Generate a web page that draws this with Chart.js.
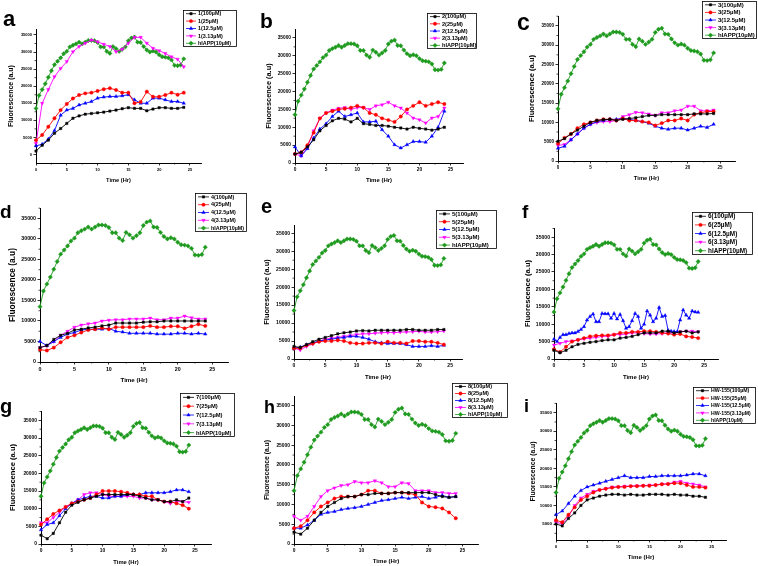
<!DOCTYPE html>
<html><head><meta charset="utf-8">
<script src="https://cdn.jsdelivr.net/npm/chart.js@4.4.0/dist/chart.umd.min.js"></script>
<style>
html,body{margin:0;padding:0;background:#fff;}
#wrap{position:relative;width:758px;height:566px;overflow:hidden;background:#fff;}
#wrap canvas{position:absolute;left:0;top:0;}
.lt{position:absolute;font-family:"Liberation Sans",Arial,sans-serif;font-weight:bold;color:#000;white-space:nowrap;}
</style></head><body><div id="wrap"></div>
<script>
// ---------- data ----------
const hoursHalf = [0,0.5,1,1.5,2,2.5,3,3.5,4,4.5,5,5.5,6,6.5,7,7.5,8,8.5,9,9.5,10,10.5,11,11.5,12,12.5,13,13.5,14,14.5,15,15.5,16,16.5,17,17.5,18,18.5,19,19.5,20,20.5,21,21.5,22,22.5,23,23.5,24];
const hoursFull = [0,1,2,3,4,5,6,7,8,9,10,11,12,13,14,15,16,17,18,19,20,21,22,23,24];
const yTickValues = [0,5000,10000,15000,20000,25000,30000,35000];
const xTickValues = [0,5,10,15,20,25];
const yMinorValues = [2500,7500,12500,17500,22500,27500,32500,37500];
const xMinorValues = [2.5,7.5,12.5,17.5,22.5];
const concLabels = ['100µM','25µM','12.5µM','3.13µM'];
const controlLabel = 'hIAPP(10µM)';
const compoundNames = ['1','2','3','4','5','6','7','8','HW-155'];
const panelLetters = ['a','b','c','d','e','f','g','h','i'];

const hIAPP = [13500,17300,19000,20700,22600,24500,26300,27300,28300,29500,30200,31500,32000,32400,32900,32400,32900,33400,33400,33300,32800,31500,31500,30200,29600,31600,31000,30200,30800,31500,33300,34100,34400,32900,32800,31600,30600,30000,30300,30000,29200,28600,28500,28300,27700,26100,26000,26200,28000];

const c1_100  = [1000,2700,4200,6200,7600,9100,10600,11300,11800,12000,12200,12400,12700,13000,13400,13700,13500,13500,12800,13300,13700,13700,13500,13500,13800];
const c1_25   = [4200,5700,8100,10600,13000,14800,16400,17400,17900,18100,18600,19100,19400,18900,18100,18100,15000,15400,18400,16900,16900,17400,18100,17500,18100];
const c1_12_5 = [2500,3000,4500,7000,11500,13000,13500,14500,15000,15500,16500,16800,17000,17000,17200,17500,16000,15000,15000,16500,16500,16000,15500,15500,15000];
const c1_3_13 = [3200,15000,19000,22800,25200,27200,30100,31600,32600,33500,33000,32300,31600,30100,30800,32600,34300,34300,32600,31100,30400,29600,28600,27900,25700];

const c2_100  = [2500,3000,4500,6500,9000,10500,11800,12500,12300,11500,12500,11000,10800,10500,10500,10300,10000,9800,9500,10000,9700,9500,9200,9500,10000];
const c2_25   = [2500,3000,5000,8500,12500,14000,14500,15000,15200,15500,16000,15500,14000,13500,12500,12000,11500,13000,15000,16000,17000,16000,16500,17000,16500];
const c2_12_5 = [4500,2000,4000,7000,9500,11000,13000,14500,13000,13500,14000,11500,11500,11700,9300,7500,5100,4200,5100,6000,6000,5800,7500,10000,14500];
const c2_3_13 = [2500,2000,4500,9000,12500,14000,14800,15300,15500,15000,15500,15500,15000,16000,16300,17000,16000,15400,14000,12600,12100,11200,12600,13000,15400];

const c3_100  = [5100,5800,7000,8000,9000,10000,10500,10700,10800,10500,10800,11000,11200,11500,11800,11800,12000,12000,12000,12000,12000,12200,12200,12200,12300];
const c3_25   = [4500,6000,7000,8500,9500,10000,10500,10800,10800,10500,11000,10500,10500,10200,10000,9200,9800,10500,10500,11000,10500,12000,12500,12800,12800];
const c3_12_5 = [3300,3800,5500,7000,8500,9500,10200,10500,10800,10800,11000,10800,10500,10200,9800,9000,8500,8200,8500,8500,8000,8500,9000,8700,9500];
const c3_3_13 = [4000,4300,5500,7000,8500,9500,10000,10200,10200,10500,11500,12000,12600,12500,12200,11800,12500,12500,13000,13200,14200,14200,13000,13000,13200];

const c4_100  = [3500,4000,5500,6500,7000,7800,8000,8300,8500,8800,9000,9500,9500,9500,9500,9700,9800,9800,10000,10000,10000,10000,10000,10000,10000];
const c4_25   = [3000,2800,3500,4800,6000,6500,7200,7800,8000,8300,8000,8500,8500,8500,8500,8500,8800,8500,8500,8700,8700,8200,8700,9200,8800];
const c4_12_5 = [5000,4000,5000,6000,6800,7200,7800,8000,8000,8000,8200,7500,7300,7000,7000,7000,7000,6800,6800,6800,7000,7000,6800,7000,6800];
const c4_3_13 = [3500,4000,5000,6500,7500,8500,9000,9300,9500,10000,10200,10300,10300,10500,10500,10500,10700,10300,10300,10700,10700,11200,10800,10500,10500];

const c5_100  = [3500,3200,4000,4800,5500,6000,6500,7000,7300,7500,7800,7900,7800,8000,8000,8000,8000,8000,8200,8200,8000,8000,8000,8200,8200];
const c5_25   = [3000,3000,3800,4300,4800,5000,5000,5200,5000,4500,4300,4300,4500,4500,4300,4800,4500,4500,4300,5000,5000,4800,4800,4500,4000];
const c5_12_5 = [3000,3300,4000,4500,5000,5300,5500,5800,6000,6300,6300,6000,5500,4800,4500,4300,4300,4300,4000,3500,3500,3500,3700,3500,3800];
const c5_3_13 = [3000,2500,3500,4200,5000,5500,5800,6000,6300,6500,6800,7000,7000,7200,7300,7400,7300,7500,7500,7600,7700,7500,7500,7600,7800];

const c6_100  = [2500,1800,2500,3500,4200,4500,4800,5000,5300,5500,5500,6000,6200,6500,7000,7500,7500,7500,8000,8000,7500,7800,8000,7500,7800];
const c6_25   = [2800,2000,3500,5000,5500,6000,6500,6700,6800,6800,7000,7500,7500,7800,7800,8000,8000,7800,7500,7300,7000,7200,6500,6300,6000];
const c6_12_5 = [5700,5000,6200,7000,7000,7300,7500,7500,7900,8500,9300,11200,12200,12900,10700,10700,13100,13000,13000,11700,13100,11500,12800,11000,8800,9300,11000,13100,12200,8800,10000,13800,12600,10700,11700,14800,12200,12500,8200,8000,7900,7800,11200,14100,12600,11700,13800,13500,13400];
const c6_3_13 = [4000,4500,5000,5200,5500,5800,6000,6200,6500,6500,7000,7000,7200,7500,7500,7300,7200,7200,7300,7500,7500,7800,8000,8000,7800];

const c7_100  = [2500,1500,3000,6000,9000,11000,11800,12500,13000,13500,14000,14000,14000,14000,14000,14000,13500,13000,12500,12500,12000,12000,12500,12000,13000];
const c7_25   = [5500,7000,8500,9500,10500,11500,12000,12500,13000,14000,15000,15000,15000,14800,14500,14000,14000,13500,13500,12500,12000,12000,11500,11000,10000];
const c7_12_5 = [4000,5500,6000,8000,10000,11500,12500,13000,13500,13500,13000,13000,13500,13500,14000,14000,14000,14500,14500,14500,14500,14800,15300,15300,14800];
const c7_3_13 = [6000,6000,7500,9000,10500,11500,12500,14000,14500,14500,14000,13500,13500,13500,13500,13500,13000,13000,12500,12500,12000,11500,12000,12000,11800];

const c8_100  = [3000,2500,4000,6000,8000,9500,10500,11500,12000,12000,12500,12500,12800,12800,12800,13000,13000,13000,13000,13000,13000,12500,12000,11800,12000];
const c8_25   = [4000,4500,6000,8000,9500,10500,11500,12000,12000,12000,12500,13500,13500,12800,12800,13000,13000,12800,12500,10500,9500,9300,9000,8000,6500];
const c8_12_5 = [4000,4000,4800,6000,7500,8000,8200,8700,9000,9200,9500,10000,10500,11000,11200,11500,11800,11500,11800,12000,11500,11800,12300,11800,12000];
const c8_3_13 = [7000,6000,7000,9500,12000,13500,14200,14800,15000,15800,15500,15500,16000,15500,14500,14500,15500,15300,13500,13500,13500,13000,13000,12800,12800];

const c9_100  = [5000,4500,6500,8000,10000,11500,12000,12500,12800,13000,13000,12800,13000,12800,12800,13000,13000,13000,12800,13000,12800,12800,12500,12500,12200];
const c9_25   = [6000,5500,7500,9500,11500,12500,13500,14200,14500,14800,15000,15000,15200,15200,15300,15300,15500,15700,15800,16000,16000,15500,15000,15000,14800];
const c9_12_5 = [7500,8500,10500,12500,14000,15000,15500,16000,16500,17000,17500,18000,17500,17500,17500,17800,17800,18000,18000,18000,18000,18200,18500,18500,18000];
const c9_3_13 = [5500,5000,7000,10000,12000,13000,13800,14200,14500,15000,15000,15200,15200,15300,15300,15500,15500,15800,15800,16300,16500,16000,15800,15500,15000];

const panelSeries = [
  [c1_100,c1_25,c1_12_5,c1_3_13],
  [c2_100,c2_25,c2_12_5,c2_3_13],
  [c3_100,c3_25,c3_12_5,c3_3_13],
  [c4_100,c4_25,c4_12_5,c4_3_13],
  [c5_100,c5_25,c5_12_5,c5_3_13],
  [c6_100,c6_25,c6_12_5,c6_3_13],
  [c7_100,c7_25,c7_12_5,c7_3_13],
  [c8_100,c8_25,c8_12_5,c8_3_13],
  [c9_100,c9_25,c9_12_5,c9_3_13]
];

// ---------- layout / style ----------
const FONT = '"Liberation Sans", Arial, sans-serif';
const seriesStyle = [
  {color:'#000000', pointStyle:'rect',     rot:0,   r:1.7},
  {color:'#ff0000', pointStyle:'circle',   rot:0,   r:1.7},
  {color:'#0000ff', pointStyle:'triangle', rot:0,   r:2.0},
  {color:'#ff00ff', pointStyle:'triangle', rot:180, r:2.0},
  {color:'#1e9a1e', pointStyle:'rectRot',  rot:0,   r:2.2}
];
const geom = [
  {L:36, T:29, R:201,B:163, ymin:-2500,ymax:36750, xmax:26.8, ytx:11, xty:180, tf:4.0, ytf:7.0, xtf:5.7, leg:[183,10,237,47], lf:5.4, sl:10, lx:3,   lb:27,  ls:22},
  {L:295,T:29, R:463,B:163, ymin:0,    ymax:37500, xmax:27.0, ytx:269,xty:180, tf:4.8, ytf:7.4, xtf:6.0, leg:[427,13,477,49], lf:5.6, sl:10, lx:260, lb:28,  ls:21},
  {L:558,T:16, R:735,B:161, ymin:0,    ymax:37550, xmax:27.3, ytx:532,xty:178, tf:4.5, ytf:7.6, xtf:5.8, leg:[702,1,757,39],  lf:6.0, sl:11, lx:517, lb:30,  ls:23},
  {L:40, T:208,R:228,B:362, ymin:0,    ymax:37550, xmax:27.3, ytx:13, xty:380, tf:5.3, ytf:8.4, xtf:6.2, leg:[195,193,247,232],lf:5.4, sl:11, lx:0,   lb:218, ls:19},
  {L:294,T:225,R:462,B:359, ymin:0,    ymax:37300, xmax:26.9, ytx:267,xty:377, tf:5.0, ytf:7.4, xtf:6.0, leg:[436,210,497,249],lf:6.0, sl:11, lx:261, lb:213, ls:20},
  {L:554,T:228,R:718,B:359, ymin:0,    ymax:37640, xmax:27.3, ytx:528,xty:377, tf:5.1, ytf:7.6, xtf:6.0, leg:[692,212,753,255],lf:6.4, sl:11, lx:522, lb:218, ls:19},
  {L:41, T:411,R:211,B:544, ymin:0,    ymax:37650, xmax:27.6, ytx:13, xty:562, tf:4.9, ytf:7.6, xtf:5.8, leg:[180,393,235,437],lf:5.8, sl:11, lx:0,   lb:413, ls:20},
  {L:294,T:396,R:478,B:544, ymin:0,    ymax:37450, xmax:27.3, ytx:267,xty:561, tf:4.9, ytf:6.8, xtf:6.1, leg:[452,383,508,418],lf:5.6, sl:11, lx:264, lb:413, ls:18},
  {L:556,T:403,R:726,B:540, ymin:700,  ymax:37600, xmax:27.3, ytx:533,xty:557, tf:4.4, ytf:6.8, xtf:6.1, leg:[693,387,756,424],lf:5.2, sl:13, lx:524, lb:412, ls:18}
];

const boxLegend = {
  id:'boxLegend',
  afterDraw(chart, args, o){
    const ctx = chart.ctx;
    const [x0,y0,x1,y1] = o.rect;
    ctx.save();
    ctx.fillStyle = '#fff';
    ctx.fillRect(x0, y0, x1-x0, y1-y0);
    ctx.strokeStyle = '#000'; ctx.lineWidth = 0.8;
    ctx.strokeRect(x0+0.5, y0+0.5, x1-x0-1, y1-y0-1);
    const dss = chart.data.datasets;
    const rowH = (y1-y0)/dss.length;
    const sx0 = x0+3, sx1 = x0+3+o.sample;
    ctx.font = 'bold ' + o.fs + 'px ' + FONT;
    ctx.textBaseline = 'middle'; ctx.textAlign = 'left';
    dss.forEach((ds,i)=>{
      const cy = y0 + rowH*(i+0.5);
      ctx.strokeStyle = ds.borderColor; ctx.lineWidth = 0.8;
      ctx.beginPath(); ctx.moveTo(sx0,cy); ctx.lineTo(sx1,cy); ctx.stroke();
      ctx.fillStyle = ds.backgroundColor; ctx.strokeStyle = ds.borderColor; ctx.lineWidth = 0.4;
      if (Chart.helpers && Chart.helpers.drawPoint) {
        Chart.helpers.drawPoint(ctx, {pointStyle: ds.pointStyle, rotation: ds.pointRotation||0, radius: ds.pointRadius, borderWidth: 0.4}, (sx0+sx1)/2, cy);
      } else {
        ctx.fillRect((sx0+sx1)/2-1.5, cy-1.5, 3, 3);
      }
      ctx.fillStyle = '#000';
      ctx.fillText(ds.label, sx1+2, cy+0.3);
    });
    ctx.restore();
  }
};

// minor axis ticks (Origin style), placed through the chart's own scales
const minorTicks = {
  id:'minorTicks',
  afterDraw(chart){
    const ctx = chart.ctx, xs = chart.scales.x, ys = chart.scales.y, a = chart.chartArea;
    ctx.save();
    ctx.strokeStyle = '#000'; ctx.lineWidth = 0.7;
    ctx.beginPath();
    xMinorValues.forEach(v => { if (v > xs.min && v < xs.max) { const px = xs.getPixelForValue(v); ctx.moveTo(px, a.bottom); ctx.lineTo(px, a.bottom + 1.5); } });
    yMinorValues.forEach(v => { if (v > ys.min && v < ys.max) { const py = ys.getPixelForValue(v); ctx.moveTo(a.left, py); ctx.lineTo(a.left - 1.5, py); } });
    ctx.stroke();
    ctx.restore();
  }
};

function pts(vals){
  const t = vals.length === hoursHalf.length ? hoursHalf : hoursFull;
  return vals.map((v,i)=>({x:t[i], y:v}));
}

const wrap = document.getElementById('wrap');
geom.forEach((g, p)=>{
  const cv = document.createElement('canvas');
  cv.width = 758; cv.height = 566;
  cv.style.width = '758px'; cv.style.height = '566px';
  wrap.appendChild(cv);

  const lhY = 1.2*g.ytf, lhX = 1.2*g.xtf;
  const padLeft = g.ytx - lhY/2;
  const canvasBottom = g.xty + lhX/2;

  const labels = concLabels.map(c => compoundNames[p] + '(' + c + ')').concat([controlLabel]);
  const seriesVals = panelSeries[p].concat([hIAPP]);
  const datasets = seriesVals.map((vals, k)=>{
    const s = seriesStyle[k];
    return {
      label: labels[k],
      data: pts(vals),
      borderColor: s.color,
      backgroundColor: s.color,
      pointStyle: s.pointStyle,
      pointRotation: s.rot,
      pointRadius: s.r,
      pointBorderWidth: 0.4,
      borderWidth: 0.9,
      tension: 0,
      fill: false,
      clip: false
    };
  });

  const tickFont = {family: FONT, size: g.tf, weight: 'bold'};
  new Chart(cv.getContext('2d'), {
    type: 'line',
    data: {datasets},
    plugins: [boxLegend, minorTicks],
    options: {
      responsive: false, animation: false, events: [],
      layout: {padding: {left: padLeft, top: g.T, right: 758 - g.R, bottom: 566 - canvasBottom}},
      plugins: {
        legend: {display: false}, tooltip: {enabled: false},
        boxLegend: {rect: g.leg, fs: g.lf, sample: g.sl}
      },
      scales: {
        x: {
          type: 'linear', min: 0, max: g.xmax,
          afterBuildTicks: s => { s.ticks = xTickValues.map(v => ({value: v})); },
          afterFit: s => { s.height = canvasBottom - g.B; },
          grid: {display: true, drawOnChartArea: false, drawTicks: true, tickLength: 2.5, color: '#000', lineWidth: 0.8},
          border: {display: true, color: '#000', width: 1},
          ticks: {font: tickFont, color: '#000', padding: 1.5, maxRotation: 0, autoSkip: false, callback: v => String(v)},
          title: {display: true, text: 'Time (Hr)', color: '#000', padding: 0, font: {family: FONT, size: g.xtf, weight: 'bold'}}
        },
        y: {
          type: 'linear', min: g.ymin, max: g.ymax,
          afterBuildTicks: s => { s.ticks = yTickValues.filter(v => v >= g.ymin && v <= g.ymax).map(v => ({value: v})); },
          afterFit: s => { s.width = g.L - padLeft; },
          grid: {display: true, drawOnChartArea: false, drawTicks: true, tickLength: 2.5, color: '#000', lineWidth: 0.8},
          border: {display: true, color: '#000', width: 1},
          ticks: {font: tickFont, color: '#000', padding: 1.5, autoSkip: false, callback: v => String(v)},
          title: {display: true, text: 'Fluorescence (a.u)', color: '#000', padding: 0, font: {family: FONT, size: g.ytf, weight: 'bold'}}
        }
      }
    }
  });

  const d = document.createElement('div');
  d.className = 'lt';
  d.textContent = panelLetters[p];
  d.style.fontSize = g.ls + 'px';
  d.style.lineHeight = g.ls + 'px';
  d.style.left = g.lx + 'px';
  d.style.top = (g.lb - 0.8465*g.ls) + 'px';
  wrap.appendChild(d);
});
</script>
</body></html>
